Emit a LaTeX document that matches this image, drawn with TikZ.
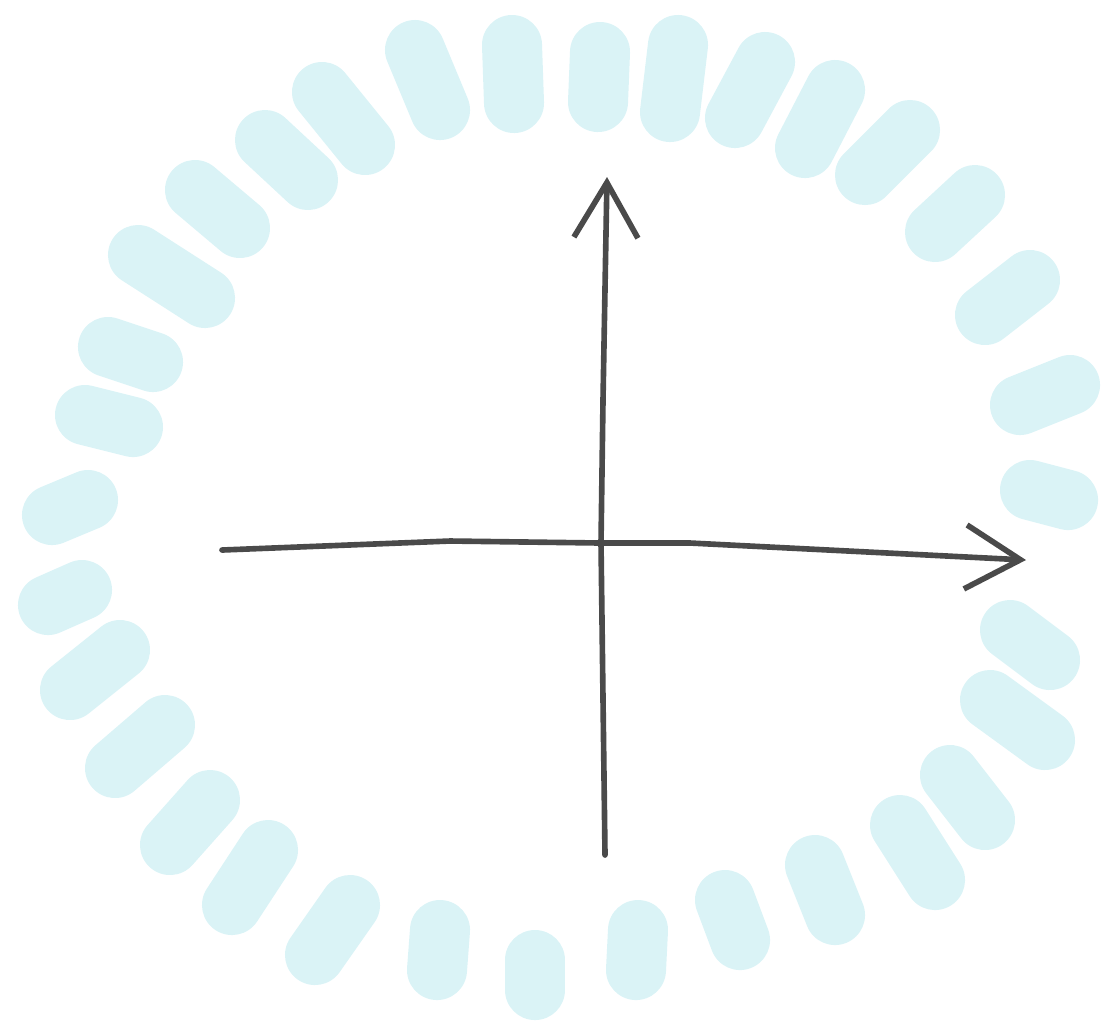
\documentclass[tikz,border=0pt]{standalone}
\usetikzlibrary{arrows.meta}

\definecolor{ringblue}{HTML}{DAF3F6}
\definecolor{pencil}{HTML}{4A4A4A}

\begin{document}
\begin{tikzpicture}[
    x=0.01cm, y=-0.01cm,
    blob/.style={draw=ringblue, line width=0.6cm, line cap=round},
    axis/.style={draw=pencil, line width=1.6pt, line cap=round, line join=round,
                 -{Straight Barb[length=0.55cm, width=0.64cm, line width=1.6pt]}}
]
\useasboundingbox (0,0) rectangle (1116,1023);

% Ring of soft dashes around the axes
\foreach \ax/\ay/\bx/\by in {
    415/50/440/110, 512/45/514/103, 600/52/598/102, 678/45/670/112,
    765/62/735/118, 835/90/805/148, 910/130/865/175, 975/195/935/232,
    1030/280/985/315, 1070/385/1020/405, 1030/490/1068/500,
    1010/630/1050/660, 990/700/1045/740, 950/775/985/820,
    900/825/935/880, 815/865/835/915, 725/900/740/940,
    638/930/636/970, 535/960/535/990, 440/930/437/970,
    350/905/315/955, 268/850/232/905, 210/800/170/845,
    165/725/115/768, 120/650/70/690, 82/590/48/605,
    88/500/52/515, 85/415/133/427, 108/347/153/362,
    138/255/205/298, 195/190/240/228, 265/140/308/180,
    322/92/365/145}
    \draw[blob] (\ax,\ay) -- (\bx,\by);

% Axes
\coordinate (origin) at (601,543);
\coordinate (xstart) at (222,550);
\coordinate (xend) at (1026,560);
\coordinate (ystart) at (605,855);
\coordinate (yend) at (607,177);

\draw[axis] (xstart) -- (450,541) -- (origin) -- (690,543) -- (xend);
\draw[axis] (ystart) -- (origin) -- (603,400) -- (yend);

\end{tikzpicture}
\end{document}
